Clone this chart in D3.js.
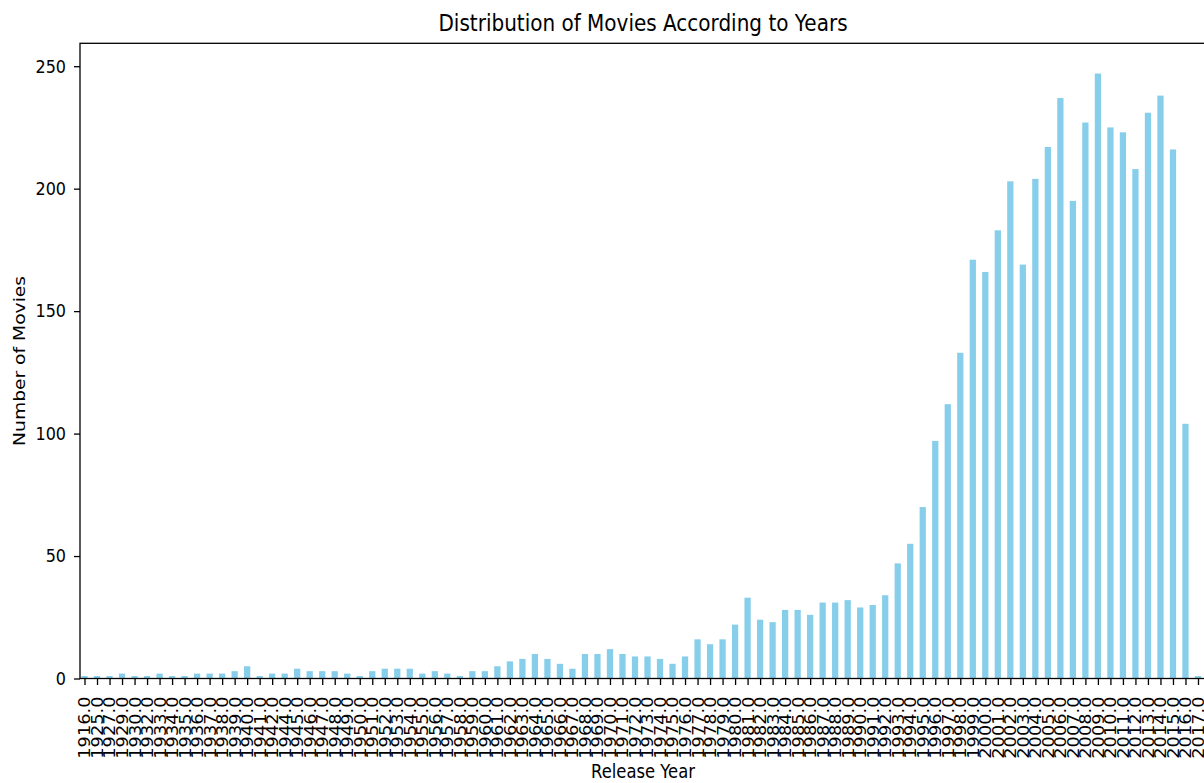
<!DOCTYPE html>
<html>
<head>
<meta charset="utf-8">
<script src="https://cdn.jsdelivr.net/npm/d3@7"></script>
<style>
  html, body { margin: 0; padding: 0; background: #fff; }
  svg { display: block; font-family: "DejaVu Sans", sans-serif; }
</style>
</head>
<body>
<svg id="chart" width="1204" height="783"></svg>
<script>
const years = [1916, 1925, 1927, 1929, 1930, 1932, 1933, 1934, 1935, 1936,
  1937, 1938, 1939, 1940, 1941, 1942, 1944, 1945, 1946, 1947,
  1948, 1949, 1950, 1951, 1952, 1953, 1954, 1955, 1956, 1957,
  1958, 1959, 1960, 1961, 1962, 1963, 1964, 1965, 1966, 1967,
  1968, 1969, 1970, 1971, 1972, 1973, 1974, 1975, 1976, 1977,
  1978, 1979, 1980, 1981, 1982, 1983, 1984, 1985, 1986, 1987,
  1988, 1989, 1990, 1991, 1992, 1993, 1994, 1995, 1996, 1997,
  1998, 1999, 2000, 2001, 2002, 2003, 2004, 2005, 2006, 2007,
  2008, 2009, 2010, 2011, 2012, 2013, 2014, 2015, 2016, 2017];
const counts = [1, 1, 1, 2, 1, 1, 2, 1, 1, 2,
  2, 2, 3, 5, 1, 2, 2, 4, 3, 3,
  3, 2, 1, 3, 4, 4, 4, 2, 3, 2,
  1, 3, 3, 5, 7, 8, 10, 8, 6, 4,
  10, 10, 12, 10, 9, 9, 8, 6, 9, 16,
  14, 16, 22, 33, 24, 23, 28, 28, 26, 31,
  31, 32, 29, 30, 34, 47, 55, 70, 97, 112,
  133, 171, 166, 183, 203, 169, 204, 217, 237, 195,
  227, 247, 225, 223, 208, 231, 238, 216, 104, 1];
const yTicks = [0, 50, 100, 150, 200, 250];
const titleText = "Distribution of Movies According to Years";
const xLabel = "Release Year";
const yLabel = "Number of Movies";

const svg = d3.select("#chart");
const L = 80, R = 1206, T = 43.3, B = 678.5;
const SY = 1.14;           // vertical glyph stretch seen in the reference
const n = years.length;
const x = d3.scaleLinear().domain([-0.36, n - 0.36]).range([L, R]);
const y = d3.scaleLinear().domain([0, d3.max(counts) * 1.05]).range([B, T]);
const barW = (x(0.5) - x(0));

// bars
svg.append("g").selectAll("rect").data(counts).join("rect")
  .attr("x", (d, i) => x(i) - barW / 2)
  .attr("width", barW)
  .attr("y", d => y(d))
  .attr("height", d => y(0) - y(d))
  .attr("fill", "#87ceeb");

// x axis
const xAxis = d3.axisBottom(x)
  .tickValues(d3.range(n))
  .tickFormat(i => years[i].toFixed(1))
  .tickSize(6.5)
  .tickSizeOuter(0);
const gx = svg.append("g").attr("transform", `translate(0,${B})`).call(xAxis);
gx.select(".domain").remove();
gx.selectAll(".tick line").attr("stroke", "#000").attr("stroke-width", 1.3);
gx.selectAll(".tick text")
  .attr("transform", `scale(1,${SY}) rotate(-90)`)
  .attr("text-anchor", "end")
  .attr("x", -18 / SY)
  .attr("y", 0)
  .attr("dy", "0.35em")
  .attr("fill", "#000")
  .style("font-size", "15.6px")
  .style("font-family", "DejaVu Sans");

// y axis
const yAxis = d3.axisLeft(y).tickValues(yTicks).tickSize(6).tickPadding(8).tickSizeOuter(0);
const gy = svg.append("g").attr("transform", `translate(${L},0)`).call(yAxis);
gy.select(".domain").remove();
gy.selectAll(".tick line").attr("stroke", "#000").attr("stroke-width", 1.3);
gy.selectAll(".tick text")
  .attr("transform", `scale(1,${SY})`)
  .attr("fill", "#000")
  .style("font-size", "16px")
  .style("font-family", "DejaVu Sans");

// frame (spines)
svg.append("rect")
  .attr("x", L).attr("y", T)
  .attr("width", R - L).attr("height", B - T)
  .attr("fill", "none").attr("stroke", "#000").attr("stroke-width", 1.3);

// title
svg.append("text")
  .attr("transform", `translate(${(L + R) / 2},31) scale(1,${SY})`)
  .attr("text-anchor", "middle")
  .style("font-size", "20px")
  .attr("fill", "#000")
  .text(titleText);

// x label
svg.append("text")
  .attr("transform", `translate(${(L + R) / 2},778) scale(1,${SY})`)
  .attr("text-anchor", "middle")
  .style("font-size", "16.4px")
  .attr("fill", "#000")
  .text(xLabel);

// y label
svg.append("text")
  .attr("transform", `translate(25,${(T + B) / 2}) scale(1,${SY}) rotate(-90)`)
  .attr("text-anchor", "middle")
  .style("font-size", "16.4px")
  .attr("fill", "#000")
  .text(yLabel);
</script>
</body>
</html>
